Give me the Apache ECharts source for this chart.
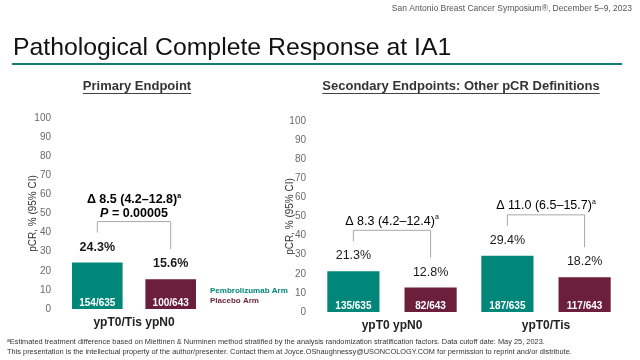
<!DOCTYPE html>
<html><head><meta charset="utf-8">
<script src="https://cdn.jsdelivr.net/npm/echarts@6/dist/echarts.min.js"></script>
<style>html,body{margin:0;padding:0;background:#fff}#c{width:640px;height:360px}</style>
</head><body><div id="c"></div>
<script>
// ---- data ----
const primaryCategories = ['ypT0/Tis ypN0'];
const secondaryCategories = ['ypT0 ypN0', 'ypT0/Tis'];
const pembroPrimary = [24.3];
const placeboPrimary = [15.6];
const pembroSecondary = [21.3, 29.4];
const placeboSecondary = [12.8, 18.2];
const pembroCountsPrimary = ['154/635'];
const placeboCountsPrimary = ['100/643'];
const pembroCountsSecondary = ['135/635', '187/635'];
const placeboCountsSecondary = ['82/643', '117/643'];
const deltaPrimary = ['8.5 (4.2–12.8)'];
const pValuePrimary = ['0.00005'];
const deltaSecondary = ['8.3 (4.2–12.4)', '11.0 (6.5–15.7)'];
const seriesNames = ['Pembrolizumab Arm', 'Placebo Arm'];

const TEAL = '#00877A', MAROON = '#6B1F3A';
const FONT = '"Liberation Sans", Arial, sans-serif';

const chart = echarts.init(document.getElementById('c'), null, {renderer: 'canvas'});

function yAxis(gi, margin, nameGap) {
  return {
    type: 'value', gridIndex: gi, min: 0, max: 100, interval: 10,
    name: 'pCR, % (95% CI)', nameLocation: 'middle', nameGap: nameGap, nameMoveOverlap: false,
    nameTextStyle: {fontFamily: FONT, fontSize: 10, color: '#333'},
    axisLine: {show: false}, axisTick: {show: false}, splitLine: {show: false},
    axisLabel: {fontFamily: FONT, fontSize: 10, color: '#6a6a6a', margin: margin}
  };
}
function xAxis(gi, cats) {
  return {
    type: 'category', gridIndex: gi, data: cats,
    axisLine: {show: false}, axisTick: {show: false},
    axisLabel: {fontFamily: FONT, fontSize: 12, fontWeight: 'bold', color: '#222', margin: 8}
  };
}
function barSeries(name, color, xi, data, bold, catGap, gap) {
  return {
    type: 'bar', name: name, xAxisIndex: xi, yAxisIndex: xi, data: data,
    itemStyle: {color: color}, barCategoryGap: catGap, barGap: gap,
    label: {show: true, position: 'top', distance: 9, formatter: p => p.value.toFixed(1) + '%',
            fontFamily: FONT, fontSize: 12.5, fontWeight: bold ? 'bold' : 'normal', color: '#1a1a1a'}
  };
}

const option = {
  animation: false,
  grid: [
    {left: 57, top: 118, width: 154, height: 191},
    {left: 315, top: 121, width: 308, height: 191}
  ],
  xAxis: [xAxis(0, primaryCategories), xAxis(1, secondaryCategories)],
  yAxis: [yAxis(0, 6, 19), yAxis(1, 9, 20)],
  legend: {
    orient: 'vertical', left: 205, top: 286, padding: 0, icon: 'none', itemWidth: 0, itemHeight: 9, itemGap: 2,
    textStyle: {fontFamily: FONT, fontSize: 8, fontWeight: 'bold'},
    data: [{name: seriesNames[0], textStyle: {color: TEAL}}, {name: seriesNames[1], textStyle: {color: MAROON}}]
  },
  series: [
    barSeries(seriesNames[0], TEAL, 0, pembroPrimary, true, '19.5%', '45%'),
    barSeries(seriesNames[1], MAROON, 0, placeboPrimary, true, '19.5%', '45%'),
    barSeries(seriesNames[0], TEAL, 1, pembroSecondary, false, '16%', '48%'),
    barSeries(seriesNames[1], MAROON, 1, placeboSecondary, false, '16%', '48%')
  ]
};
chart.setOption(option);

// ---- annotations derived from the library's bar layout ----
function barBox(si, idx) {
  const l = chart.getModel().getSeriesByIndex(si).getData().getItemLayout(idx);
  return {cx: l.x + l.width / 2, x: l.x, w: l.width,
          top: Math.min(l.y, l.y + l.height), bottom: Math.max(l.y, l.y + l.height)};
}
const meas = document.createElement('canvas').getContext('2d');
function textW(t, font) { meas.font = font; return meas.measureText(t).width; }

const g = [];
// header & title
g.push({type: 'text', right: 8, top: 4, style: {text: 'San Antonio Breast Cancer Symposium®, December 5–9, 2023', font: '8.5px ' + FONT, fill: '#555'}});
g.push({type: 'text', left: 13, top: 36, style: {text: 'Pathological Complete Response at IA1', font: '24.8px ' + FONT, fill: '#111'}});
g.push({type: 'line', shape: {x1: 12, y1: 64, x2: 622, y2: 64}, style: {stroke: '#137D70', lineWidth: 2}});

// section titles with underline
function sectionTitle(t, cx, cy) {
  const f = 'bold 13px ' + FONT;
  const w = textW(t, f);
  g.push({type: 'text', x: cx, y: cy, style: {text: t, font: f, fill: '#333', align: 'center', verticalAlign: 'middle'}});
  g.push({type: 'line', shape: {x1: cx - w / 2, y1: cy + 7.5, x2: cx + w / 2, y2: cy + 7.5}, style: {stroke: '#444', lineWidth: 1}});
}
sectionTitle('Primary Endpoint', 137, 86);
sectionTitle('Secondary Endpoints: Other pCR Definitions', 461, 86);

// count labels inside bars
function counts(si, arr) {
  arr.forEach((t, i) => {
    const b = barBox(si, i);
    g.push({type: 'text', z: 100, x: b.cx, y: b.bottom - 6, style: {text: t, font: 'bold 10px ' + FONT, fill: '#fff', align: 'center', verticalAlign: 'middle'}});
  });
}
counts(0, pembroCountsPrimary); counts(1, placeboCountsPrimary);
counts(2, pembroCountsSecondary); counts(3, placeboCountsSecondary);

// brackets + delta text
const rich = (bold) => ({
  m: {fontFamily: FONT, fontSize: 12.5, fontWeight: bold ? 'bold' : 'normal', color: '#1a1a1a', lineHeight: 15},
  s: {fontFamily: FONT, fontSize: 7, fontWeight: bold ? 'bold' : 'normal', color: '#1a1a1a', lineHeight: 15, verticalAlign: 'top', padding: [0, 0, 6, 0]},
  i: {fontFamily: FONT, fontSize: 12.5, fontWeight: 'bold', fontStyle: 'italic', color: '#1a1a1a', lineHeight: 15}
});
function bracket(siA, siB, idx, delta, pval, bold) {
  const a = barBox(siA, idx), b = barBox(siB, idx);
  const la = a.top - 30, lb = b.top - 30;
  const h = Math.min(la, lb) - 11;
  g.push({type: 'polyline', shape: {points: [[a.cx, la], [a.cx, h], [b.cx, h], [b.cx, lb]]}, style: {stroke: '#a8a8a8', lineWidth: 1, fill: null}});
  const mid = (a.cx + b.cx) / 2;
  if (pval) {
    g.push({type: 'text', x: mid, y: h - 8, style: {rich: rich(true), text: '{i|P}{m| = ' + pval + '}', align: 'center', verticalAlign: 'middle'}});
    g.push({type: 'text', x: mid, y: h - 22, style: {rich: rich(true), text: '{m|Δ ' + delta + '}{s|a}', align: 'center', verticalAlign: 'middle'}});
  } else {
    g.push({type: 'text', x: mid, y: h - 9, style: {rich: rich(bold), text: '{m|Δ ' + delta + '}{s|a}', align: 'center', verticalAlign: 'middle'}});
  }
}
bracket(0, 1, 0, deltaPrimary[0], pValuePrimary[0], true);
deltaSecondary.forEach((d, i) => bracket(2, 3, i, d, null, false));

// footnotes
g.push({type: 'text', left: 7, top: 338, style: {rich: {s: {fontFamily: FONT, fontSize: 5, fill: '#333', verticalAlign: 'top', padding: [0,0,3,0]}, m: {fontFamily: FONT, fontSize: 7.4, fill: '#333'}}, text: '{s|a}{m|Estimated treatment difference based on Miettinen & Nurminen method stratified by the analysis randomization stratification factors. Data cutoff date: May 25, 2023.}'}});
g.push({type: 'text', left: 7, top: 348, style: {text: 'This presentation is the intellectual property of the author/presenter. Contact them at Joyce.OShaughnessy@USONCOLOGY.COM for permission to reprint and/or distribute.', font: '7.4px ' + FONT, fill: '#333'}});

chart.setOption({graphic: {elements: g}});
</script>
</body></html>
